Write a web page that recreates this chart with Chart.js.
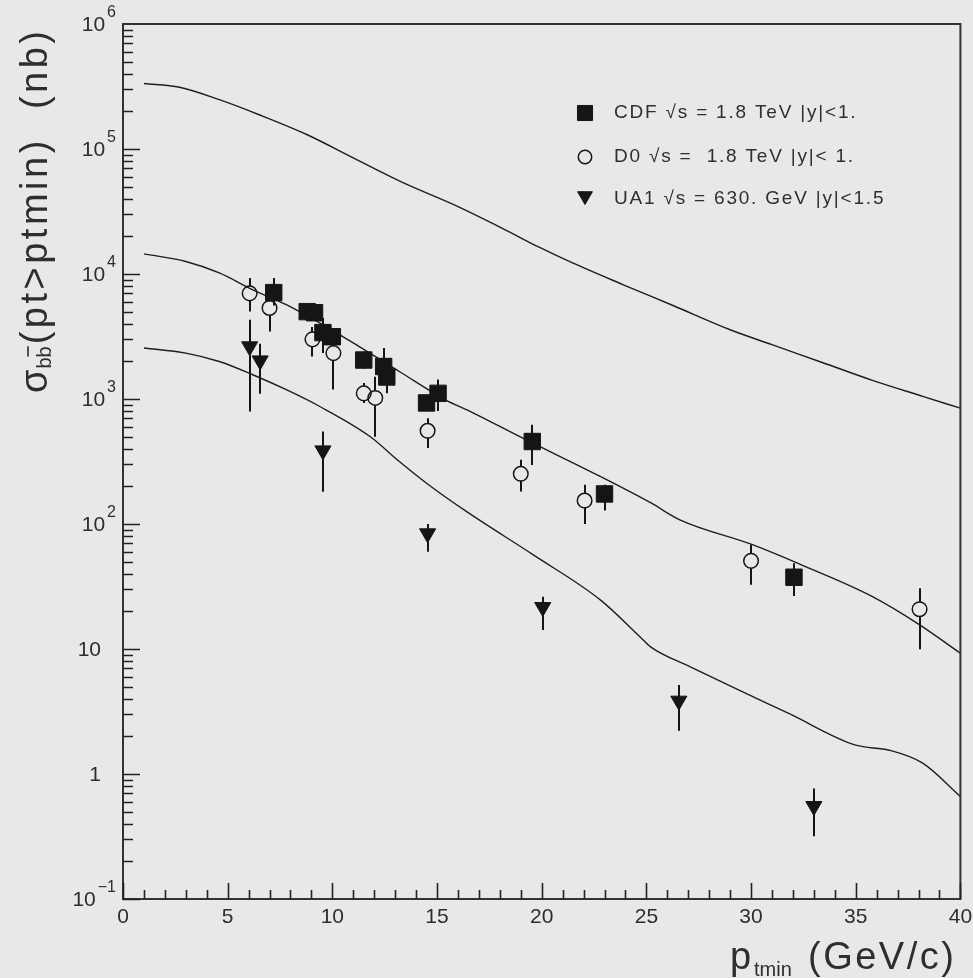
<!DOCTYPE html>
<html><head><meta charset="utf-8">
<script src="https://cdn.jsdelivr.net/npm/chart.js@4.4.1/dist/chart.umd.min.js"></script>
<style>html,body{margin:0;padding:0;background:#e8e8e8;overflow:hidden}canvas{display:block}</style>
</head><body><canvas id="c" width="973" height="978"></canvas>
<script>
// ---- theory curves ----
const upperX = [1, 2.7, 4.6, 6.5, 8.8, 11, 13.4, 15.8, 18.1, 19.9, 21.5, 23.9, 26.3, 29, 31, 33.4, 35.8, 38.2, 40];
const upperY = [334000, 312000, 248000, 188000, 130000, 84900, 53600, 35900, 23300, 16300, 12200, 8200, 5570, 3580, 2720, 1960, 1410, 1050, 845];
const middleX = [1, 3, 4.6, 6.2, 7.8, 10.5, 13.2, 15.4, 16.6, 19.1, 22.8, 25.2, 26.6, 30.1, 32.6, 35.8, 38, 40];
const middleY = [14500, 12600, 10200, 7480, 5680, 3160, 1660, 986, 794, 486, 240, 148, 108, 68, 45.6, 26.2, 15.8, 9.25];
const lowerX = [1, 3, 4.6, 6.2, 7.8, 9.4, 11.8, 13.2, 14.5, 16.4, 19.6, 22.8, 24.7, 25.2, 27.1, 29.4, 31.8, 35, 36.6, 38.2, 40];
const lowerY = [2560, 2330, 1995, 1563, 1186, 871, 501, 316, 212, 126, 56.6, 24.7, 12.5, 10.4, 7.2, 4.7, 3.05, 1.70, 1.55, 1.22, 0.66];

// ---- data points ----
const cdfX  = [7.2, 8.8, 9.15, 9.55, 10.0, 11.5, 12.45, 12.6, 14.5, 15.05, 19.55, 23.0, 32.05];
const cdfY  = [7100, 5000, 4900, 3400, 3150, 2050, 1820, 1500, 930, 1110, 457, 174, 37.5];
const cdfLo = [5600, 4300, 4200, 2330, 2700, 1750, 1300, 1110, 800, 800, 297, 128, 26.5];
const cdfHi = [9300, 5800, 5700, 4450, 3700, 2400, 2560, 1800, 1080, 1430, 621, 206, 48.5];

const d0X  = [6.05, 7.0, 9.05, 10.05, 11.5, 12.05, 14.55, 19.0, 22.05, 30.0, 38.05];
const d0Y  = [7000, 5350, 3000, 2330, 1110, 1020, 557, 252, 154, 50.7, 20.8];
const d0Lo = [5020, 3470, 2190, 1190, 930, 500, 405, 182, 100, 32.6, 9.95];
const d0Hi = [9290, 7050, 3770, 3160, 1340, 1510, 703, 326, 206, 68, 30.6];

const ua1X  = [6.05, 6.55, 9.55, 14.55, 20.05, 26.55, 33.0];
const ua1Y  = [2630, 2030, 387, 84, 21.6, 3.85, 0.553];
const ua1Lo = [795, 1100, 181, 60, 14.2, 2.22, 0.318];
const ua1Hi = [4300, 2770, 550, 100, 26.2, 5.15, 0.767];

const seriesLabels = ['CDF \u221As = 1.8 TeV |y|<1.', 'D0 \u221As =  1.8 TeV |y|< 1.', 'UA1 \u221As = 630. GeV |y|<1.5'];

// ---- axes ----
const xTickValues = [0, 5, 10, 15, 20, 25, 30, 35, 40];
const xTickLabels = ['0', '5', '10', '15', '20', '25', '30', '35', '40'];
const yTickValues = [0.1, 1, 10, 100, 1000, 10000, 100000, 1000000];
const yTickBase   = ['10', '1', '10', '10', '10', '10', '10', '10'];
const yTickExp    = ['\u22121', '', '', '2', '3', '4', '5', '6'];

const BG = '#e8e8e8', INK = '#151515', TXT = '#2e2e2e';
const FONT = '"Liberation Sans", Arial, sans-serif';

const pts = (xa, ya) => xa.map((x, i) => ({x: x, y: ya[i]}));

const markerStyles = [
  {pointStyle: 'rect', radius: 11.6, rotation: 0, fill: INK, stroke: INK, borderWidth: 1, gap: 0},
  {pointStyle: 'circle', radius: 7.3, rotation: 0, fill: 'rgba(0,0,0,0)', stroke: INK, borderWidth: 1.5, gap: 7.3},
  {pointStyle: 'triangle', radius: 9.3, rotation: 180, fill: INK, stroke: INK, borderWidth: 1, gap: 0}
];
const errSets = [[cdfX, cdfY, cdfLo, cdfHi], [d0X, d0Y, d0Lo, d0Hi], [ua1X, ua1Y, ua1Lo, ua1Hi]];

const deco = {
  id: 'deco',
  beforeDraw(c) {
    const g = c.ctx; g.save(); g.fillStyle = BG; g.fillRect(0, 0, c.width, c.height); g.restore();
  },
  beforeDatasetsDraw(c) {
    const g = c.ctx, xs = c.scales.x, ys = c.scales.y;
    g.save();
    g.strokeStyle = INK; g.lineWidth = 2;
    errSets.forEach((s, k) => {
      const gap = markerStyles[k].gap;
      s[0].forEach((xv, i) => {
        const px = Math.round(xs.getPixelForValue(xv));
        const py = ys.getPixelForValue(s[1][i]);
        const pl = ys.getPixelForValue(s[2][i]);
        const ph = ys.getPixelForValue(s[3][i]);
        g.beginPath();
        if (ph < py - gap) { g.moveTo(px, ph); g.lineTo(px, py - gap); }
        if (pl > py + gap) { g.moveTo(px, py + gap); g.lineTo(px, pl); }
        g.stroke();
      });
    });
    g.restore();
  },
  afterDraw(c) {
    const g = c.ctx, xs = c.scales.x, ys = c.scales.y, a = c.chartArea;
    g.save();
    // frame
    g.strokeStyle = '#333'; g.lineWidth = 2;
    g.strokeRect(a.left, a.top, a.right - a.left, a.bottom - a.top);
    // x ticks
    g.lineWidth = 1.6; g.strokeStyle = '#222';
    g.beginPath();
    for (let v = xs.min; v <= xs.max; v += 1) {
      const px = Math.round(xs.getPixelForValue(v)) + 0.5;
      const len = xTickValues.includes(v) ? 16 : 9;
      g.moveTo(px, a.bottom); g.lineTo(px, a.bottom - len);
    }
    // y ticks
    for (let k = -1; k < 6; k++) {
      for (let m = 1; m <= 9; m++) {
        const v = m * Math.pow(10, k);
        const py = Math.round(ys.getPixelForValue(v)) + 0.5;
        const len = m === 1 ? 17 : 10;
        g.moveTo(a.left, py); g.lineTo(a.left + len, py);
      }
    }
    g.stroke();
    // x tick labels
    g.fillStyle = TXT; g.font = '21px ' + FONT; g.textAlign = 'center'; g.textBaseline = 'middle';
    xTickValues.forEach((v, i) => g.fillText(xTickLabels[i], xs.getPixelForValue(v), a.bottom + 18));
    // y tick labels
    yTickValues.forEach((v, i) => {
      const py = ys.getPixelForValue(v);
      g.textBaseline = 'middle';
      if (yTickExp[i]) {
        g.font = '16px ' + FONT; g.textAlign = 'right';
        const ew = g.measureText(yTickExp[i]).width;
        g.fillText(yTickExp[i], 116, py - 11);
        g.font = '21px ' + FONT;
        g.fillText(yTickBase[i], 116 - ew - 2, py + 1);
      } else {
        g.font = '21px ' + FONT; g.textAlign = 'right';
        g.fillText(yTickBase[i], 101, py + 1);
      }
    });
    // legend
    const legX = 585, legTX = 614, legY = [113, 157, 199];
    seriesLabels.forEach((t, k) => {
      const ms = markerStyles[k];
      g.fillStyle = ms.fill; g.strokeStyle = ms.stroke; g.lineWidth = ms.borderWidth;
      Chart.helpers.drawPoint(g, {pointStyle: ms.pointStyle, radius: ms.radius * 0.92, rotation: ms.rotation, borderWidth: ms.borderWidth}, legX, legY[k] + (k === 2 ? -3 : 0));
      g.fillStyle = TXT; g.font = '19px ' + FONT; g.textAlign = 'left'; g.textBaseline = 'middle';
      g.letterSpacing = '1.8px';
      g.fillText(t, legTX, legY[k]);
      g.letterSpacing = '0px';
    });
    // x axis title
    g.fillStyle = TXT; g.textAlign = 'left'; g.textBaseline = 'alphabetic';
    g.font = '38px ' + FONT; g.fillText('p', 730, 969);
    g.font = '20px ' + FONT; g.fillText('tmin', 754, 976);
    g.font = '38px ' + FONT; g.letterSpacing = '2.5px'; g.fillText('(GeV/c)', 808, 969); g.letterSpacing = '0px';
    // y axis title (rotated)
    g.save();
    g.translate(47, 393); g.rotate(-Math.PI / 2);
    g.textAlign = 'left'; g.textBaseline = 'alphabetic';
    let cx = 0;
    g.font = '38px ' + FONT; g.fillText('\u03C3', cx, 0); cx += g.measureText('\u03C3').width + 1;
    g.font = '20px ' + FONT;
    const bw = g.measureText('b').width;
    g.fillText('bb', cx, 4);
    g.lineWidth = 1.6; g.strokeStyle = TXT;
    g.beginPath(); g.moveTo(cx + bw + 1, -19); g.lineTo(cx + 2 * bw, -19); g.stroke();
    cx += 2 * bw + 2;
    g.font = '38px ' + FONT; g.letterSpacing = '3.5px';
    g.fillText('(pt>ptmin)  (nb)', cx, 0);
    g.letterSpacing = '0px';
    g.restore();
    g.restore();
  }
};

const curveStyle = {showLine: true, pointRadius: 0, borderColor: '#1e1e1e', borderWidth: 1.4, fill: false, cubicInterpolationMode: 'monotone'};

new Chart(document.getElementById('c'), {
  type: 'scatter',
  data: {
    datasets: [
      {label: seriesLabels[0], data: pts(cdfX, cdfY), pointStyle: 'rect', pointRadius: markerStyles[0].radius, backgroundColor: INK, borderColor: INK, borderWidth: 1},
      {label: seriesLabels[1], data: pts(d0X, d0Y), pointStyle: 'circle', pointRadius: markerStyles[1].radius, backgroundColor: 'rgba(0,0,0,0)', borderColor: INK, borderWidth: 1.5},
      {label: seriesLabels[2], data: pts(ua1X, ua1Y), pointStyle: 'triangle', rotation: 180, pointRadius: markerStyles[2].radius, backgroundColor: INK, borderColor: INK, borderWidth: 1},
      Object.assign({label: 'upper', data: pts(upperX, upperY)}, curveStyle),
      Object.assign({label: 'middle', data: pts(middleX, middleY)}, curveStyle),
      Object.assign({label: 'lower', data: pts(lowerX, lowerY)}, curveStyle)
    ]
  },
  options: {
    responsive: false, animation: false, devicePixelRatio: 1,
    layout: {padding: {top: 24, right: 12, left: 0, bottom: 0}},
    plugins: {legend: {display: false}, tooltip: {enabled: false}},
    scales: {
      x: {type: 'linear', min: 0, max: 40, grid: {display: false}, border: {display: false}, ticks: {display: false},
          afterFit(s) { s.height = 79; }},
      y: {type: 'logarithmic', min: 0.1, max: 1000000, grid: {display: false}, border: {display: false}, ticks: {display: false},
          afterFit(s) { s.width = 123; }}
    }
  },
  plugins: [deco]
});
</script>
</body></html>
